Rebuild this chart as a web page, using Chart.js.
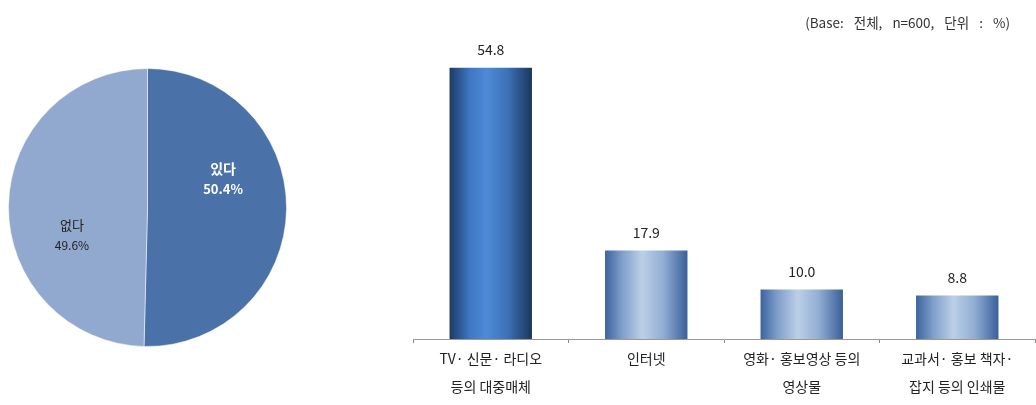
<!DOCTYPE HTML>
<html>
<head>
    <meta charset="utf-8">
    <script src="https://cdn.jsdelivr.net/npm/chart.js"></script>
    <style>
        body {
            margin: 0;
            background: #fff;
            width: 1036px;
            height: 405px;
            position: relative;
            overflow: hidden;
            font-family: "Noto Sans CJK KR", sans-serif;
        }
        #pieBox {
            position: absolute;
            left: 8px;
            top: 68px;
            width: 279px;
            height: 279px;
        }
        #barBox {
            position: absolute;
            left: 400px;
            top: 0;
            width: 636px;
            height: 405px;
        }
        .note {
            position: absolute;
            right: 26px;
            top: 12px;
            font-size: 13.5px;
            word-spacing: 7px;
            color: #333;
        }
    </style>
</head>
<body>
    <div id="pieBox"><canvas id="pieChart"></canvas></div>
    <div id="barBox"><canvas id="barChart"></canvas></div>
    <div class="note">(Base: 전체, n=600, 단위 : %)</div>

    <script>
        const pieLabels = ['있다', '없다'];
        const pieValues = [50.4, 49.6];
        const pieColors = ['#4a72a8', '#91a8cf'];

        const barLabels = [
            ['TV· 신문· 라디오', '등의 대중매체'],
            ['인터넷'],
            ['영화· 홍보영상 등의', '영상물'],
            ['교과서· 홍보 책자·', '잡지 등의 인쇄물']
        ];
        const barValues = [54.8, 17.9, 10.0, 8.8];

        const FONT = '"Noto Sans CJK KR", sans-serif';

        // labels inside the pie slices
        const pieText = {
            id: 'pieText',
            afterDatasetsDraw(chart) {
                const ctx = chart.ctx;
                const meta = chart.getDatasetMeta(0);
                meta.data.forEach((arc, i) => {
                    const mid = (arc.startAngle + arc.endAngle) / 2 - 0.37;
                    const r = arc.outerRadius * 0.58;
                    const x = arc.x + Math.cos(mid) * r;
                    const y = arc.y + Math.sin(mid) * r;
                    const light = i === 0;
                    ctx.save();
                    ctx.textAlign = 'center';
                    ctx.textBaseline = 'middle';
                    ctx.fillStyle = light ? '#ffffff' : '#222222';
                    ctx.font = (light ? 'bold 14px ' : '13px ') + FONT;
                    ctx.fillText(pieLabels[i], x, y - 11);
                    ctx.font = (light ? 'bold 13px ' : '12px ') + FONT;
                    ctx.fillText(pieValues[i].toFixed(1) + '%', x, y + 10);
                    ctx.restore();
                });
            }
        };

        new Chart(document.getElementById('pieChart'), {
            type: 'pie',
            data: {
                labels: pieLabels,
                datasets: [{
                    data: pieValues,
                    backgroundColor: pieColors,
                    borderColor: 'rgba(255,255,255,0.5)',
                    borderWidth: 1
                }]
            },
            options: {
                responsive: true,
                maintainAspectRatio: false,
                animation: false,
                plugins: { legend: { display: false }, tooltip: { enabled: false } }
            },
            plugins: [pieText]
        });

        // cylinder-like horizontal gradient per bar
        function barFill(c) {
            const chart = c.chart;
            const x = chart.scales.x;
            if (!chart.chartArea || !x) return '#4a72a8';
            const cx = x.getPixelForValue(c.dataIndex);
            const half = x.width / barLabels.length * 0.53 / 2;
            const g = chart.ctx.createLinearGradient(cx - half, 0, cx + half, 0);
            if (c.dataIndex === 0) {
                g.addColorStop(0, '#1c3a66');
                g.addColorStop(0.25, '#3f78c4');
                g.addColorStop(0.45, '#4d8ad8');
                g.addColorStop(0.7, '#3d72b8');
                g.addColorStop(1, '#1b365f');
            } else {
                g.addColorStop(0, '#3b639e');
                g.addColorStop(0.2, '#7d9dc9');
                g.addColorStop(0.45, '#bccfe7');
                g.addColorStop(0.7, '#93afd5');
                g.addColorStop(1, '#3a609a');
            }
            return g;
        }

        const barValuesText = {
            id: 'barValuesText',
            afterDatasetsDraw(chart) {
                const ctx = chart.ctx;
                chart.getDatasetMeta(0).data.forEach((bar, i) => {
                    ctx.save();
                    ctx.textAlign = 'center';
                    ctx.textBaseline = 'bottom';
                    ctx.fillStyle = '#222';
                    ctx.font = '14px ' + FONT;
                    ctx.fillText(barValues[i].toFixed(1), bar.x, bar.y - 11);
                    ctx.restore();
                });
            }
        };

        new Chart(document.getElementById('barChart'), {
            type: 'bar',
            data: {
                labels: barLabels,
                datasets: [{
                    data: barValues,
                    backgroundColor: barFill,
                    categoryPercentage: 0.53,
                    barPercentage: 1
                }]
            },
            options: {
                responsive: true,
                maintainAspectRatio: false,
                animation: false,
                layout: { padding: { left: 13, right: 1, top: 42, bottom: 2 } },
                plugins: { legend: { display: false }, tooltip: { enabled: false } },
                scales: {
                    x: {
                        grid: {
                            display: true,
                            drawOnChartArea: false,
                            drawTicks: true,
                            tickLength: 4,
                            color: '#888'
                        },
                        border: { color: '#999' },
                        ticks: {
                            color: '#222',
                            padding: 2,
                            font: { family: FONT, size: 14, lineHeight: 2 }
                        }
                    },
                    y: {
                        display: false,
                        min: 0,
                        max: 60
                    }
                }
            },
            plugins: [barValuesText]
        });
    </script>
</body>
</html>
